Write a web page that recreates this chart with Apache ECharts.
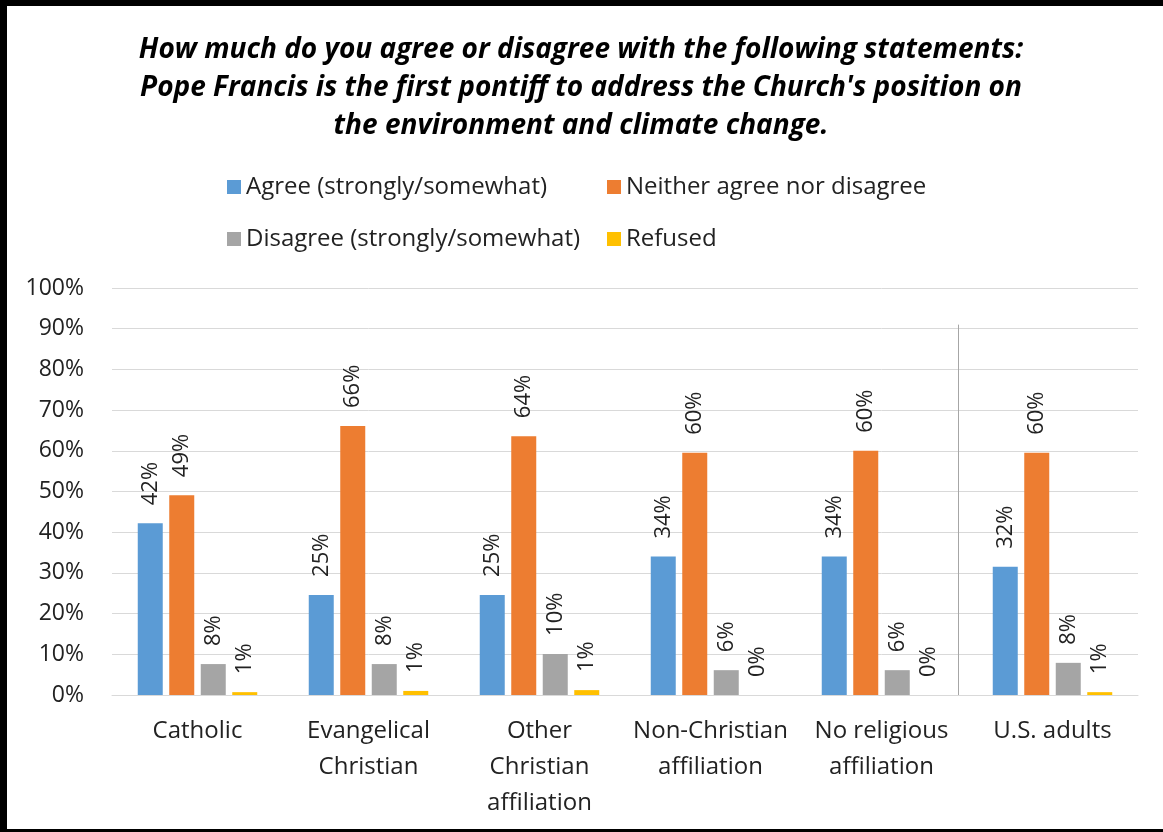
<!DOCTYPE html>
<html>
<head>
<meta charset="utf-8">
<script src="https://cdn.jsdelivr.net/npm/echarts@6/dist/echarts.min.js"></script>
<style>
  html, body { margin: 0; padding: 0; background: #fff; }
  #frame {
    position: absolute; left: 0; top: 0; width: 1163px; height: 832px;
    box-sizing: border-box;
    border-top: 6px solid #000; border-left: 7px solid #000; border-bottom: 3px solid #000;
    pointer-events: none; z-index: 2;
  }
  #chart { position: absolute; left: 0; top: 0; width: 1163px; height: 832px; }
</style>
</head>
<body>
<div id="chart"></div>
<div id="frame"></div>
<script>
// Survey groups shown along the x axis
const categories = ['Catholic', 'Evangelical\nChristian', 'Other\nChristian\naffiliation',
  'Non-Christian\naffiliation', 'No religious\naffiliation', 'U.S. adults'];

// Share of respondents (%) by answer
const seriesNames = ['Agree (strongly/somewhat)', 'Neither agree nor disagree',
  'Disagree (strongly/somewhat)', 'Refused'];
const agree    = [42.2, 24.6, 24.6, 34.0, 34.0, 31.5];
const neither  = [49.1, 66.1, 63.6, 59.5, 60.0, 59.5];
const disagree = [7.6, 7.6, 10.1, 6.1, 6.1, 7.9];
const refused  = [0.7, 1.0, 1.2, 0.0, 0.0, 0.7];

const colors = ['#5B9BD5', '#ED7D31', '#A5A5A5', '#FFC000'];
const font = '"Open Sans", "Noto Sans", sans-serif';

const chart = echarts.init(document.getElementById('chart'));

function barSeries(name, data, color) {
  return {
    name: name,
    type: 'bar',
    data: data,
    barWidth: 25,
    barGap: '26%',
    itemStyle: { color: color },
    label: {
      show: true,
      position: 'top',
      rotate: 90,
      align: 'left',
      verticalAlign: 'middle',
      distance: 18,
      fontFamily: font,
      fontSize: 22,
      color: '#222',
      formatter: p => Math.round(p.value) + '%'
    }
  };
}

// Legend laid out as a 2x2 block: one legend component per entry
const legendCols = [222, 602];
const legendRows = [170, 222];
const legends = seriesNames.map((name, i) => ({
  data: [name],
  left: legendCols[i % 2],
  top: legendRows[Math.floor(i / 2)],
  itemWidth: 14, itemHeight: 14, icon: 'rect',
  textStyle: { fontFamily: font, fontSize: 24, color: '#222' }
}));

chart.setOption({
  animation: false,
  backgroundColor: '#fff',
  title: {
    text: 'How much do you agree or disagree with the following statements:\nPope Francis is the first pontiff to address the Church\'s position on\nthe environment and climate change.',
    left: 576,
    textAlign: 'center',
    top: 26,
    textStyle: {
      fontFamily: font, fontSize: 28, fontWeight: 'bold', fontStyle: 'italic',
      color: '#000', lineHeight: 38
    }
  },
  legend: legends,
  grid: { left: 112, right: 25, top: 288, bottom: 137, containLabel: false },
  xAxis: {
    type: 'category',
    data: categories,
    axisLine: { show: true, lineStyle: { color: '#D9D9D9' } },
    axisTick: { show: false },
    axisLabel: {
      fontFamily: font, fontSize: 24, color: '#222', lineHeight: 36,
      margin: 18, interval: 0
    }
  },
  yAxis: {
    type: 'value',
    min: 0, max: 100, interval: 10,
    axisLine: { show: false },
    axisTick: { show: false },
    splitLine: { lineStyle: { color: '#D9D9D9', width: 1 } },
    axisLabel: {
      fontFamily: font, fontSize: 23, color: '#222', margin: 28,
      formatter: v => v + '%'
    }
  },
  series: [
    barSeries(seriesNames[0], agree, colors[0]),
    barSeries(seriesNames[1], neither, colors[1]),
    barSeries(seriesNames[2], disagree, colors[2]),
    barSeries(seriesNames[3], refused, colors[3])
  ]
});

// Divider separating the total (U.S. adults) from the religious groups
const a = chart.convertToPixel({ gridIndex: 0 }, [4, 0]);
const b = chart.convertToPixel({ gridIndex: 0 }, [5, 91]);
const sepX = Math.round((a[0] + b[0]) / 2) - 9 + 0.5;
chart.setOption({
  graphic: [{
    type: 'line',
    shape: { x1: sepX, y1: b[1], x2: sepX, y2: a[1] },
    style: { stroke: '#A6A6A6', lineWidth: 1 },
    silent: true
  }]
});
</script>
</body>
</html>
